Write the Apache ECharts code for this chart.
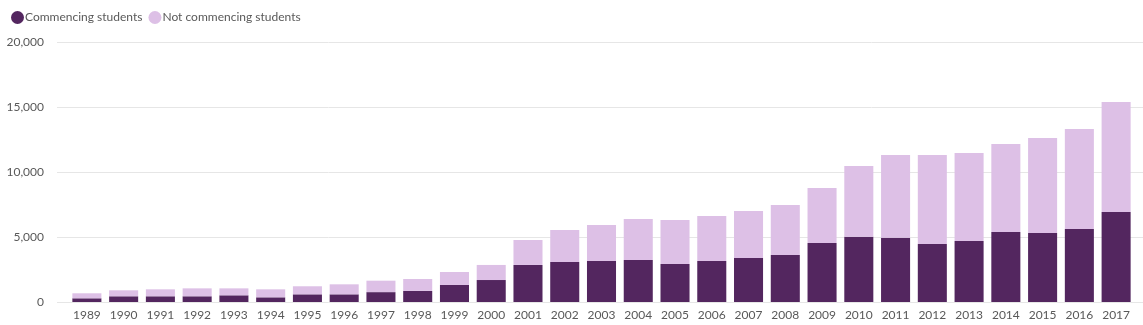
<!DOCTYPE html>
<html><head><meta charset="utf-8">
<script src="https://cdn.jsdelivr.net/npm/echarts@6/dist/echarts.min.js"></script>
<style>html,body{margin:0;padding:0;background:#fff}#c{width:1143px;height:325px}</style>
</head><body><div id="c"></div>
<script>
const years = ['1989','1990','1991','1992','1993','1994','1995','1996','1997','1998','1999','2000','2001','2002','2003','2004','2005','2006','2007','2008','2009','2010','2011','2012','2013','2014','2015','2016','2017'];
const commencing = [285,440,440,440,515,360,590,590,760,850,1310,1690,2850,3080,3150,3230,2920,3150,3385,3615,4540,5025,4950,4460,4690,5385,5310,5615,6925];
const notCommencing = [385,460,535,610,535,615,620,770,880,920,1000,1160,1920,2460,2770,3150,3390,3470,3615,3845,4230,5435,6360,6850,6770,6765,7305,7695,8460];
const yTicks = [0,5000,10000,15000,20000];
const font = 'Lato, "Noto Sans", sans-serif';
const chart = echarts.init(document.getElementById('c'), null, {renderer:'canvas'});
chart.setOption({
  animation:false,
  legend:{left:6,top:6,itemWidth:13,itemHeight:13,itemGap:6,icon:'circle',
    textStyle:{color:'#595959',fontSize:12,fontFamily:font,padding:[0,0,0,-4]},
    data:['Commencing students','Not commencing students']},
  grid:[{left:57,right:0,top:42,bottom:23},{left:68.5,right:8.5,top:42,bottom:23}],
  xAxis:[
    {gridIndex:0,type:'category',data:years,show:false},
    {gridIndex:1,type:'category',data:years,axisLine:{show:false},axisTick:{show:false},
     axisLabel:{color:'#595959',fontSize:12,fontFamily:font,margin:7}}
  ],
  yAxis:[
    {gridIndex:0,type:'value',min:0,max:yTicks[yTicks.length-1],interval:5000,
     axisLine:{show:false},axisTick:{show:false},
     splitLine:{lineStyle:{color:'#e6e6e6',width:1}},
     axisLabel:{color:'#595959',fontSize:12,fontFamily:font,margin:13,
       formatter:v=>v.toLocaleString('en-US')}},
    {gridIndex:1,type:'value',min:0,max:yTicks[yTicks.length-1],interval:5000,show:false,splitLine:{show:false}}
  ],
  series:[
    {name:'Commencing students',type:'bar',stack:'s',xAxisIndex:1,yAxisIndex:1,data:commencing,
     itemStyle:{color:'#53265f'},barCategoryGap:'21%'},
    {name:'Not commencing students',type:'bar',stack:'s',xAxisIndex:1,yAxisIndex:1,data:notCommencing,
     itemStyle:{color:'#ddc0e6'},barCategoryGap:'21%'}
  ]
});
</script></body></html>
